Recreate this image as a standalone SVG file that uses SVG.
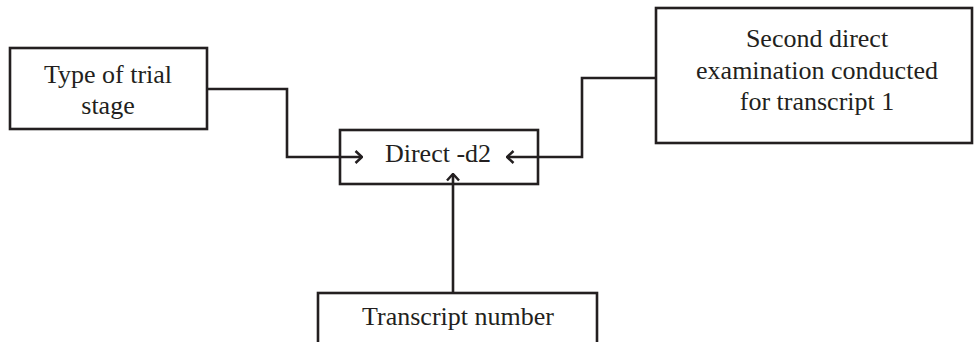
<svg xmlns="http://www.w3.org/2000/svg" width="974" height="342" viewBox="0 0 974 342">
<defs>
<style>
.box{fill:#fff;stroke:#231f20;stroke-width:2.6}
.lbl{font-family:"Liberation Serif","Times New Roman",serif;font-size:26px;fill:#231f20;text-anchor:middle}
.con{fill:none;stroke:#231f20;stroke-width:2.6}
</style>
<marker id="arr" viewBox="0 0 10 14" refX="9" refY="7" markerWidth="10" markerHeight="14" markerUnits="userSpaceOnUse" orient="auto">
<path d="M2.5,1 L9,7 L2.5,13" fill="none" stroke="#231f20" stroke-width="2.5"/>
</marker>
</defs>
<rect width="974" height="342" fill="#fff"/>
<g id="trial-stage">
<rect class="box" x="10" y="48" width="197" height="81"/>
<text class="lbl" x="108" y="83">Type of trial</text>
<text class="lbl" x="108" y="114">stage</text>
</g>
<g id="direct-d2">
<rect class="box" x="340" y="130" width="198" height="54"/>
<text class="lbl" x="438" y="162">Direct -d2</text>
</g>
<g id="second-direct">
<rect class="box" x="656" y="8" width="316" height="135"/>
<text class="lbl" x="817" y="47">Second direct</text>
<text class="lbl" x="817" y="79">examination conducted</text>
<text class="lbl" x="817" y="110">for transcript 1</text>
</g>
<g id="transcript-number">
<rect class="box" x="318" y="293" width="279" height="60"/>
<text class="lbl" x="458" y="325">Transcript number</text>
</g>
<g id="connectors">
<path class="con" d="M207,89 H287 V157 H362" marker-end="url(#arr)"/>
<path class="con" d="M656,78 H582 V157 H507" marker-end="url(#arr)"/>
<path class="con" d="M453,293 V174" marker-end="url(#arr)"/>
</g>
</svg>
